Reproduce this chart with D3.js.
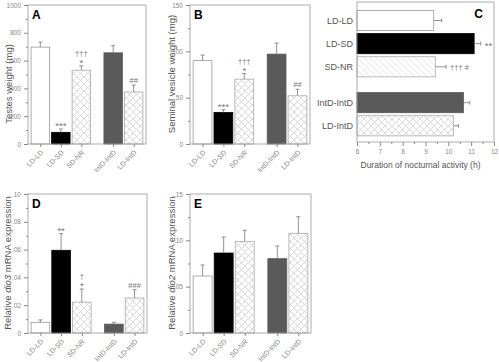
<!DOCTYPE html>
<html>
<head>
<meta charset="utf-8">
<script src="https://cdn.jsdelivr.net/npm/d3@7"></script>
<style>
  body { margin: 0; background: #fff; }
  svg { display: block; font-family: "Liberation Sans", Arial, sans-serif; }
</style>
</head>
<body>
<script>
// groups, in plotting order
var groups = ["LD-LD", "LD-SD", "SD-NR", "IntD-IntD", "LD-IntD"];

// A: testes weight (mg)
var testes = [697, 84, 531, 656, 374];
var testesErr = [37, 24, 31, 51, 50];
var testesNotes = ["", "***", "\u2020\u2020\u2020|*", "", "##"];

// B: seminal vesicle weight (mg)
var vesicle = [90, 34, 70, 97, 52];
var vesicleErr = [6, 3, 6, 12, 7];
var vesicleNotes = ["", "***", "\u2020\u2020\u2020|*", "", "##"];

// C: duration of nocturnal activity (h)
var activity = [9.36, 11.13, 9.43, 10.66, 10.22];
var activityErr = [0.35, 0.29, 0.47, 0.28, 0.22];
var activityNotes = ["", "**", "\u2020\u2020\u2020 #", "", ""];

// D: relative dio3 mRNA expression
var dio3 = [0.0077, 0.0595, 0.0222, 0.0064, 0.0252];
var dio3Err = [0.0017, 0.0120, 0.0094, 0.0013, 0.0060];
var dio3Notes = ["", "**", "\u2020|*", "", "###"];

// E: relative dio2 mRNA expression
var dio2 = [0.0615, 0.0863, 0.0989, 0.0802, 0.1076];
var dio2Err = [0.0119, 0.0173, 0.0119, 0.0137, 0.0179];

var svg = d3.select("body").append("svg")
    .attr("width", 499)
    .attr("height", 362);

var defs = svg.append("defs");
var cross = defs.append("pattern")
    .attr("id", "cross")
    .attr("patternUnits", "userSpaceOnUse")
    .attr("width", 7).attr("height", 7);
cross.append("rect").attr("width", 7).attr("height", 7).attr("fill", "#fff");
cross.append("path").attr("d", "M0,0L7,7M7,0L0,7")
    .attr("stroke", "#c4c4c4").attr("stroke-width", 0.6);

var diag = defs.append("pattern")
    .attr("id", "diag")
    .attr("patternUnits", "userSpaceOnUse")
    .attr("width", 4.5).attr("height", 4.5)
    .attr("patternTransform", "rotate(-45)");
diag.append("rect").attr("width", 4.5).attr("height", 4.5).attr("fill", "#fff");
diag.append("line").attr("x1", 0).attr("y1", 0).attr("x2", 0).attr("y2", 4.5)
    .attr("stroke", "#c4c4c4").attr("stroke-width", 0.7);

var fills = ["#fff", "#000", "url(#cross)", "#5a5a5a", "url(#cross)"];
var strokes = ["#999", "#000", "#aaa", "#5a5a5a", "#aaa"];
var grey = "#888";

// slot of each group, with a wider gap before the fourth bar
function slot(i) { return i + (i >= 3 ? 0.55 : 0); }

// asterisks are drawn a little larger than daggers and hashes
function noteSize(t) { return /^\*+$/.test(t) ? "9.5px" : "7.5px"; }

function styleAxis(g) {
    g.select(".domain").remove();
    g.selectAll("line").attr("stroke", grey);
    g.selectAll("text").attr("fill", grey).style("font-size", "6.5px");
}

function drawBars(p) {
    var g = svg.append("g");
    var x = d3.scaleLinear().domain([-0.6, 5.15]).range([p.l, p.r]);
    var y = d3.scaleLinear().domain([0, p.max]).range([p.b, p.t]);
    var bw = (x(1) - x(0)) * 0.9;

    g.selectAll(".bar")
        .data(p.values)
        .enter().append("rect")
        .attr("x", function (d, i) { return x(slot(i)) - bw / 2; })
        .attr("y", function (d) { return y(d); })
        .attr("width", bw)
        .attr("height", function (d) { return p.b - y(d); })
        .attr("fill", function (d, i) { return fills[i]; })
        .attr("stroke", function (d, i) { return strokes[i]; })
        .attr("stroke-width", 0.8);

    // error bars (upper only)
    p.values.forEach(function (d, i) {
        var cx = x(slot(i)), y0 = y(d), y1 = y(d + p.errs[i]);
        g.append("line").attr("x1", cx).attr("x2", cx).attr("y1", y0).attr("y2", y1)
            .attr("stroke", "#777").attr("stroke-width", 0.8);
        g.append("line").attr("x1", cx - 2).attr("x2", cx + 2).attr("y1", y1).attr("y2", y1)
            .attr("stroke", "#777").attr("stroke-width", 0.8);
        if (p.notes && p.notes[i]) {
            var lines = p.notes[i].split("|").reverse();
            lines.forEach(function (t, k) {
                g.append("text")
                    .attr("x", cx).attr("y", y1 - (/^\*+$/.test(t) ? 0 : 2) - k * 8)
                    .attr("text-anchor", "middle")
                    .attr("fill", "#777")
                    .style("font-size", noteSize(t))
                    .text(t);
            });
        }
    });

    g.append("rect")
        .attr("x", p.l).attr("y", p.t)
        .attr("width", p.r - p.l).attr("height", p.b - p.t)
        .attr("fill", "none").attr("stroke", "#999").attr("stroke-width", 0.8);

    g.append("g")
        .attr("transform", "translate(" + p.l + ",0)")
        .call(d3.axisLeft(y).tickValues(d3.range(0, p.max + 1e-9, p.step))
            .tickSize(4).tickFormat(p.fmt))
        .call(styleAxis);
    g.append("g")
        .attr("transform", "translate(" + p.l + ",0)")
        .call(d3.axisLeft(y).tickValues(d3.range(p.step / 2, p.max, p.step))
            .tickSize(2).tickFormat(""))
        .call(styleAxis);

    g.append("g")
        .attr("transform", "translate(0," + p.b + ")")
        .call(d3.axisBottom(x).tickValues(groups.map(function (d, i) { return slot(i); }))
            .tickSize(3).tickFormat(function (d, i) { return groups[i]; }))
        .call(styleAxis)
        .selectAll("text")
        .style("font-size", "7px")
        .attr("text-anchor", "end")
        .attr("x", 0).attr("y", 0).attr("dy", 0)
        .attr("transform", "translate(3,9) rotate(-45)");

    g.append("text")
        .attr("transform", "translate(" + p.titleX + "," + p.titleY + ") rotate(-90)")
        .attr("text-anchor", "middle")
        .attr("fill", "#555")
        .style("font-size", "9.5px")
        .html(p.title);

    g.append("text")
        .attr("x", p.l + 4).attr("y", p.t + 14)
        .attr("font-weight", "bold")
        .style("font-size", "12px")
        .text(p.letter);
}

drawBars({ l: 28, r: 146, t: 5, b: 144, max: 1000, step: 200,
    fmt: d3.format("d"), values: testes, errs: testesErr, notes: testesNotes,
    title: "Testes weight (mg)", titleX: 12, titleY: 84, letter: "A" });

drawBars({ l: 190, r: 310, t: 5, b: 144, max: 150, step: 50,
    fmt: d3.format("d"), values: vesicle, errs: vesicleErr, notes: vesicleNotes,
    title: "Seminal vesicle weight (mg)", titleX: 175, titleY: 74, letter: "B" });

function decFmt(d) { return d === 0 ? "0" : d3.format(".2f")(d).replace(/^0/, ""); }

drawBars({ l: 28, r: 147, t: 194, b: 333, max: 0.10, step: 0.02,
    fmt: decFmt, values: dio3, errs: dio3Err, notes: dio3Notes,
    title: "Relative <tspan font-style='italic'>dio3</tspan> mRNA expression",
    titleX: 11, titleY: 263, letter: "D" });

drawBars({ l: 190, r: 311, t: 194, b: 333, max: 0.15, step: 0.05,
    fmt: decFmt, values: dio2, errs: dio2Err, notes: null,
    title: "Relative <tspan font-style='italic'>dio2</tspan> mRNA expression",
    titleX: 175, titleY: 263, letter: "E" });

// C: horizontal bars
(function () {
    var l = 357, r = 494, t = 2, b = 142;
    var g = svg.append("g");
    var x = d3.scaleLinear().domain([6, 12]).range([l, r]);
    var y = d3.scaleLinear().domain([-0.8, 5.25]).range([t, b]);
    var bh = (y(1) - y(0)) * 0.87;
    var cFills = ["#fff", "#000", "url(#diag)", "#5a5a5a", "url(#cross)"];

    g.selectAll(".hbar")
        .data(activity)
        .enter().append("rect")
        .attr("x", x(6))
        .attr("y", function (d, i) { return y(slot(i)) - bh / 2; })
        .attr("width", function (d) { return x(d) - x(6); })
        .attr("height", bh)
        .attr("fill", function (d, i) { return cFills[i]; })
        .attr("stroke", function (d, i) { return strokes[i]; })
        .attr("stroke-width", 0.8);

    activity.forEach(function (d, i) {
        var cy = y(slot(i)), x0 = x(d), x1 = x(d + activityErr[i]);
        g.append("line").attr("x1", x0).attr("x2", x1).attr("y1", cy).attr("y2", cy)
            .attr("stroke", "#777").attr("stroke-width", 0.8);
        g.append("line").attr("x1", x1).attr("x2", x1).attr("y1", cy - 2).attr("y2", cy + 2)
            .attr("stroke", "#777").attr("stroke-width", 0.8);
        if (activityNotes[i]) {
            var t0 = activityNotes[i];
            g.append("text")
                .attr("x", x1 + 4).attr("y", cy + (/^\*+$/.test(t0) ? 5 : 3))
                .attr("fill", "#777")
                .style("font-size", noteSize(t0))
                .text(t0);
        }
        g.append("text")
            .attr("x", l - 4).attr("y", cy + 3)
            .attr("text-anchor", "end")
            .attr("fill", "#555")
            .attr("font-weight", "normal")
            .style("font-size", "9px")
            .text(groups[i]);
    });

    g.append("rect")
        .attr("x", l).attr("y", t)
        .attr("width", r - l).attr("height", b - t)
        .attr("fill", "none").attr("stroke", "#999").attr("stroke-width", 0.8);

    g.append("g")
        .attr("transform", "translate(0," + b + ")")
        .call(d3.axisBottom(x).tickValues(d3.range(6, 12.01, 1)).tickSize(4).tickFormat(d3.format("d")))
        .call(styleAxis);
    g.append("g")
        .attr("transform", "translate(0," + b + ")")
        .call(d3.axisBottom(x).tickValues(d3.range(6.5, 12, 1)).tickSize(2).tickFormat(""))
        .call(styleAxis);

    g.append("text")
        .attr("x", (l + r) / 2 - 5).attr("y", 168)
        .attr("text-anchor", "middle")
        .attr("fill", "#555")
        .style("font-size", "8.5px")
        .text("Duration of nocturnal activity (h)");

    g.append("text")
        .attr("x", 483).attr("y", 18)
        .attr("text-anchor", "end")
        .attr("font-weight", "bold")
        .style("font-size", "12px")
        .text("C");
})();
</script>
</body>
</html>
